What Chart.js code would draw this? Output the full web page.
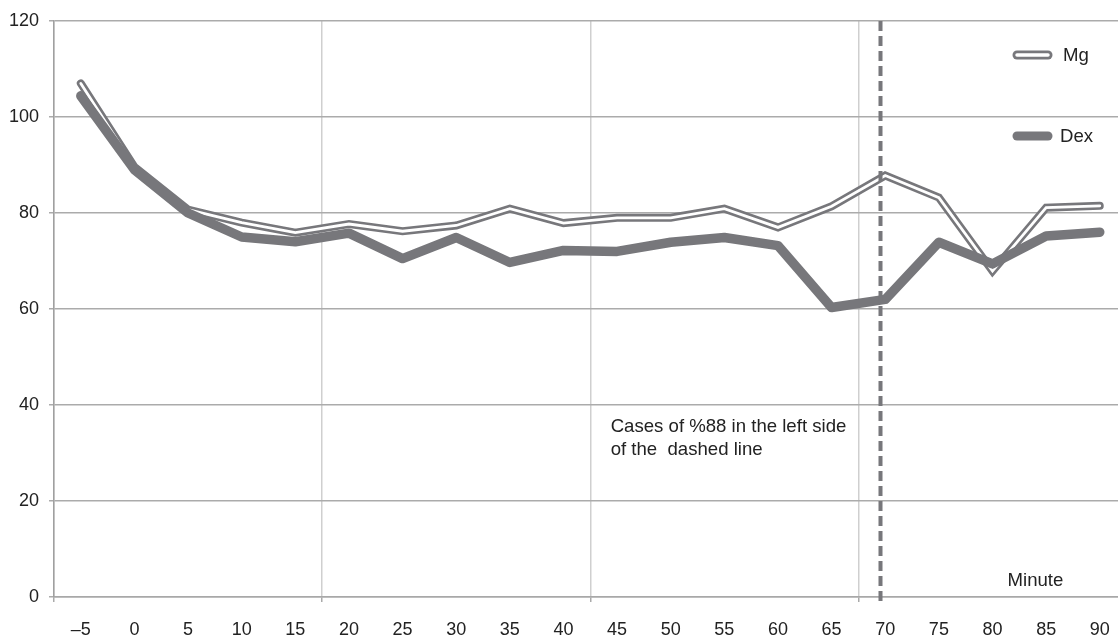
<!DOCTYPE html>
<html><head><meta charset="utf-8">
<script src="https://cdn.jsdelivr.net/npm/chart.js@4"></script>
<style>html,body{margin:0;padding:0;background:#fff}#wrap{width:1118px;height:639px;position:relative}</style>
</head><body><div id="wrap"><canvas id="c" width="1118" height="639"></canvas></div>
<script>
const minutes = [-5, 0, 5, 10, 15, 20, 25, 30, 35, 40, 45, 50, 55, 60, 65, 70, 75, 80, 85, 90];
const mgValues = [107, 89.6, 80.7, 78, 75.9, 77.7, 76.2, 77.4, 80.9, 77.9, 79, 79, 80.9, 77, 81.4, 87.8, 83.2, 67.9, 81.1, 81.5];
const dexValues = [104.4, 89, 80, 75, 74, 75.8, 70.5, 74.9, 69.7, 72.2, 72, 73.9, 74.9, 73.2, 60.3, 62, 73.9, 69.4, 75.2, 76];
const yTickValues = [0, 20, 40, 60, 80, 100, 120];
const xGridAt = [-7.5, 17.5, 42.5, 67.5];
const dashedLineAt = 69.5;
const noteLines = ["Cases of %88 in the left side", "of the  dashed line"];
const axisTitle = "Minute";
const seriesNames = ["Mg", "Dex"];

const GRAY = '#77777b';
const FONT = '"Liberation Sans", Arial, Helvetica, sans-serif';
const toPts = vals => vals.map((v, i) => ({x: minutes[i], y: v}));

const extras = {
  id: 'extras',
  afterDatasetsDraw(chart) {
    const {ctx, chartArea: a, scales: {x, y}} = chart;
    ctx.save();
    const dx = Math.round(x.getPixelForValue(dashedLineAt)) + 0.5;
    ctx.strokeStyle = GRAY; ctx.lineWidth = 4; ctx.setLineDash([10, 5]);
    ctx.beginPath(); ctx.moveTo(dx, a.top); ctx.lineTo(dx, a.bottom + 4); ctx.stroke();
    ctx.setLineDash([]);
    ctx.fillStyle = '#222'; ctx.font = '18.6px ' + FONT; ctx.textBaseline = 'middle'; ctx.textAlign = 'left';
    const nx = x.getPixelForValue(44.4);
    ctx.fillText(noteLines[0], nx, y.getPixelForValue(35.4));
    ctx.fillText(noteLines[1], nx, y.getPixelForValue(30.7));
    ctx.textAlign = 'center';
    ctx.fillText(axisTitle, x.getPixelForValue(84.0), y.getPixelForValue(3.3));
    ctx.lineCap = 'round';
    const lx0 = 1017, lx1 = 1048;
    ctx.strokeStyle = GRAY; ctx.lineWidth = 9;
    ctx.beginPath(); ctx.moveTo(lx0, 55); ctx.lineTo(lx1, 55); ctx.stroke();
    ctx.strokeStyle = '#fff'; ctx.lineWidth = 3.5;
    ctx.beginPath(); ctx.moveTo(lx0, 55); ctx.lineTo(lx1, 55); ctx.stroke();
    ctx.strokeStyle = GRAY; ctx.lineWidth = 9;
    ctx.beginPath(); ctx.moveTo(lx0, 136); ctx.lineTo(lx1, 136); ctx.stroke();
    ctx.fillStyle = '#222'; ctx.textAlign = 'left';
    ctx.fillText(seriesNames[0], 1063, 56);
    ctx.fillText(seriesNames[1], 1060, 137);
    ctx.restore();
  }
};

new Chart(document.getElementById('c'), {
  type: 'line',
  data: {
    datasets: [
      {label: seriesNames[1], data: toPts(dexValues), borderColor: GRAY, borderWidth: 9.5,
       borderCapStyle: 'round', borderJoinStyle: 'round', pointRadius: 0, order: 0, tension: 0},
      {label: seriesNames[0] + ' inner', data: toPts(mgValues), borderColor: '#ffffff', borderWidth: 2.8,
       borderCapStyle: 'round', borderJoinStyle: 'miter', pointRadius: 0, order: 1, tension: 0},
      {label: seriesNames[0], data: toPts(mgValues), borderColor: GRAY, borderWidth: 8,
       borderCapStyle: 'round', borderJoinStyle: 'miter', pointRadius: 0, order: 2, tension: 0}
    ]
  },
  options: {
    responsive: false,
    animation: false,
    layout: {padding: {top: 21, right: 0, bottom: 0, left: 0}},
    plugins: {legend: {display: false}, tooltip: {enabled: false}},
    scales: {
      x: {
        type: 'linear', min: -7.5, max: 91.7,
        afterBuildTicks: s => {
          const vals = minutes.concat(xGridAt).sort((p, q) => p - q);
          s.ticks = vals.map(v => ({value: v}));
        },
        afterFit: s => { s.height = 42; s.paddingLeft = 0; s.paddingRight = 0; },
        ticks: {
          autoSkip: false, maxRotation: 0, minRotation: 0, padding: 17,
          color: '#222', font: {family: FONT, size: 18},
          callback: v => minutes.includes(v) ? (v < 0 ? '\u2013' + Math.abs(v) : String(v)) : ''
        },
        grid: {
          color: c => (c.tick && xGridAt.includes(c.tick.value)) ? '#cfcfcf' : 'rgba(0,0,0,0)',
          tickColor: c => (c.tick && xGridAt.includes(c.tick.value)) ? '#aaaaaa' : 'rgba(0,0,0,0)',
          tickLength: 5, lineWidth: 1.5
        },
        border: {display: true, color: '#a8a8a8', width: 1.5}
      },
      y: {
        min: 0, max: 120,
        afterBuildTicks: s => { s.ticks = yTickValues.map(v => ({value: v})); },
        afterFit: s => { s.width = 54; s.paddingTop = 0; s.paddingBottom = 0; },
        ticks: {color: '#222', font: {family: FONT, size: 18}, padding: 10},
        grid: {color: '#ababab', tickColor: '#ababab', tickLength: 5, lineWidth: 1.5},
        border: {display: true, color: '#a0a0a0', width: 1.5}
      }
    }
  },
  plugins: [extras]
});
</script>
</body></html>
